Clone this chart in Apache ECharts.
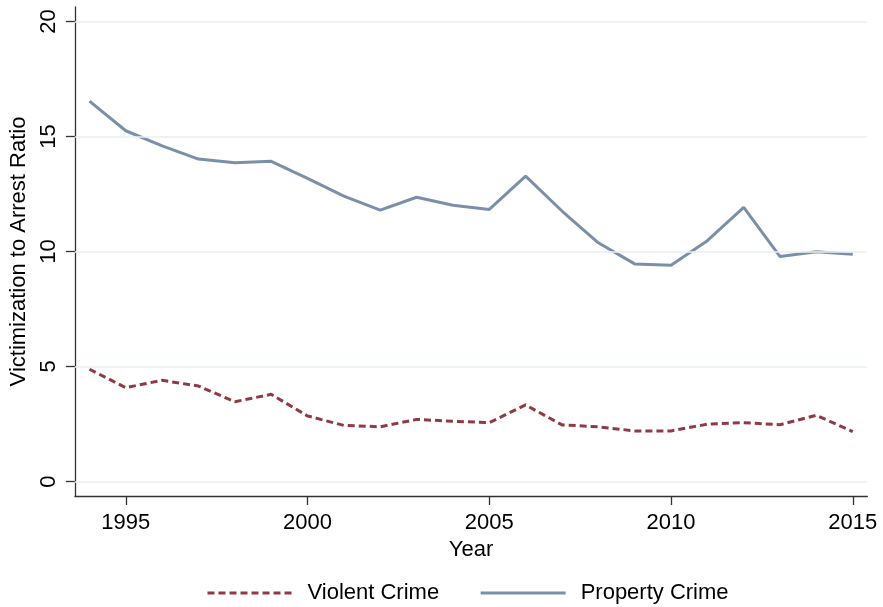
<!DOCTYPE html>
<html>
<head>
<meta charset="utf-8">
<script src="https://cdn.jsdelivr.net/npm/echarts@6/dist/echarts.min.js"></script>
<style>
html,body{margin:0;padding:0;background:#fff;}
#chart{width:883px;height:607px;}
</style>
</head>
<body>
<div id="chart"></div>
<script>
const years = [1994,1995,1996,1997,1998,1999,2000,2001,2002,2003,2004,2005,2006,2007,2008,2009,2010,2011,2012,2013,2014,2015];
const violentCrime = [4.88,4.08,4.40,4.15,3.47,3.79,2.85,2.44,2.38,2.70,2.62,2.56,3.33,2.46,2.38,2.20,2.20,2.49,2.56,2.47,2.88,2.17];
const propertyCrime = [16.54,15.25,14.59,14.02,13.86,13.92,13.18,12.41,11.80,12.36,12.01,11.83,13.28,11.76,10.38,9.46,9.40,10.47,11.92,9.78,9.99,9.88];
const xTicks = [1995,2000,2005,2010,2015];
const yTicks = [0,5,10,15,20];

const FONT = 'Arial, "Liberation Sans", sans-serif';
const chart = echarts.init(document.getElementById('chart'), null, {renderer:'canvas'});
chart.setOption({
  animation:false,
  backgroundColor:'#ffffff',
  grid:{left:73,right:15.7,top:7,bottom:111,containLabel:false},
  xAxis:{
    type:'value', min:1993.6, max:2015.4,
    name:'Year', nameLocation:'middle', nameGap:36,
    nameTextStyle:{fontFamily:FONT,fontSize:22,color:'#000'},
    axisLine:{show:true,onZero:false,lineStyle:{color:'#333',width:1.3}},
    axisTick:{show:true,length:9,customValues:xTicks,lineStyle:{color:'#333',width:1.3}},
    axisLabel:{customValues:xTicks,margin:16,fontFamily:FONT,fontSize:22,color:'#000',formatter:v=>String(v)},
    splitLine:{show:false}
  },
  yAxis:{
    type:'value', min:-0.63, max:20.63,
    name:'Victimization to Arrest Ratio', nameLocation:'middle', nameGap:32,
    nameTextStyle:{fontFamily:FONT,fontSize:22,color:'#000'},
    axisLine:{show:true,onZero:false,lineStyle:{color:'#333',width:1.3}},
    axisTick:{show:true,length:9,customValues:yTicks,lineStyle:{color:'#333',width:1.3}},
    axisLabel:{customValues:yTicks,rotate:90,margin:15,fontFamily:FONT,fontSize:22,color:'#000',formatter:v=>String(v)},
    splitLine:{show:false}
  },
  legend:{
    left:201, top:577, itemWidth:85, itemHeight:14, itemGap:40,
    itemStyle:{opacity:0},
    lineStyle:{width:3},
    textStyle:{fontFamily:FONT,fontSize:22,color:'#000',padding:[0,0,0,10]},
    data:['Violent Crime','Property Crime']
  },
  series:[
    {
      name:'Violent Crime', type:'line', symbol:'none',
      data:years.map((y,i)=>[y,violentCrime[i]]),
      lineStyle:{color:'#8f3a44',width:3,type:[7,4]},
      itemStyle:{color:'#8f3a44'},
      z:3,
      markLine:{
        silent:true, symbol:'none', label:{show:false}, animation:false,
        lineStyle:{color:'#e9f0f3',width:1.5,type:'solid'},
        data:yTicks.map(v=>({yAxis:v}))
      }
    },
    {
      name:'Property Crime', type:'line', symbol:'none',
      data:years.map((y,i)=>[y,propertyCrime[i]]),
      lineStyle:{color:'#7b90a8',width:3,type:'solid'},
      itemStyle:{color:'#7b90a8'},
      z:3
    }
  ]
});
</script>
</body>
</html>
